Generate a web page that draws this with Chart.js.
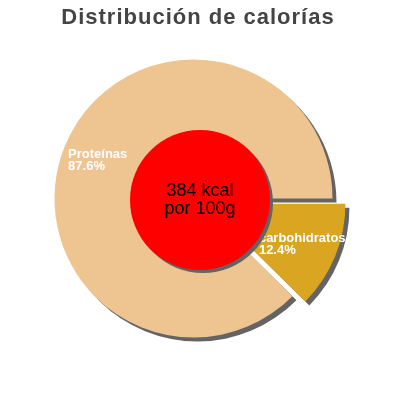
<!DOCTYPE html>
<html>
<head>
<meta charset="utf-8">
<script src="https://cdn.jsdelivr.net/npm/chart.js@4"></script>
<style>
  html, body { margin: 0; padding: 0; background: #fff; }
  #wrap { width: 400px; height: 400px; position: relative; }
</style>
</head>
<body>
<div id="wrap"><canvas id="myChart"></canvas></div>
<script>
// datos
const labels = ['carbohidratos', 'Proteínas'];
const percentages = [12.4, 87.6];
const titleText = 'Distribución de calorías';
const centerLines = ['384 kcal', 'por 100g'];

const sliceColors = ['rgb(218,165,32)', 'rgb(238,197,145)'];
const explodeIndex = 0;      // la porción separada
const EXPLODE_PX = 14;
const SHADOW = '#646464';
const FONT = "'Liberation Sans', Arial, sans-serif";

// separa la porción de carbohidratos a lo largo de su bisectriz
const explodePlugin = {
    id: 'explode',
    afterDatasetsUpdate: (chart) => {
        const arc = chart.getDatasetMeta(0).data[explodeIndex];
        if (!arc) return;
        const mid = (arc.startAngle + arc.endAngle) / 2;
        arc.x += Math.cos(mid) * EXPLODE_PX;
        arc.y += Math.sin(mid) * EXPLODE_PX;
    }
};

// sombra gris detrás del pastel, círculo rojo y etiquetas
const decorPlugin = {
    id: 'decor',
    beforeDatasetsDraw: (chart) => {
        const ctx = chart.ctx;
        ctx.save();
        ctx.shadowColor = SHADOW;
        ctx.shadowOffsetX = 4;
        ctx.shadowOffsetY = 4;
        ctx.shadowBlur = 0;
    },
    afterDatasetsDraw: (chart) => {
        const ctx = chart.ctx;
        ctx.restore();

        // etiquetas de las porciones
        const meta = chart.getDatasetMeta(0);
        ctx.save();
        ctx.fillStyle = '#ffffff';
        ctx.font = 'bold 13px ' + FONT;
        ctx.textAlign = 'left';
        ctx.textBaseline = 'alphabetic';
        meta.data.forEach((arc, i) => {
            const mid = (arc.startAngle + arc.endAngle) / 2;
            const r = arc.outerRadius * 0.745;
            const cx = arc.x + Math.cos(mid) * r;
            const cy = arc.y + Math.sin(mid) * r;
            const lines = [labels[i], percentages[i].toFixed(1) + '%'];
            const w = Math.max(...lines.map((t) => ctx.measureText(t).width));
            const left = cx - w / 2;
            ctx.fillText(lines[0], left, cy - 1.6);
            ctx.fillText(lines[1], left, cy + 10.9);
        });
        ctx.restore();

        // círculo rojo central
        const ccx = chart.width / 2;
        const ccy = chart.height / 2;
        ctx.save();
        ctx.shadowColor = SHADOW;
        ctx.shadowOffsetX = 3;
        ctx.shadowOffsetY = 3;
        ctx.beginPath();
        ctx.arc(ccx, ccy, 70, 0, Math.PI * 2);
        ctx.fillStyle = '#ff0000';
        ctx.fill();
        ctx.restore();

        ctx.save();
        ctx.fillStyle = '#000000';
        ctx.font = '18px ' + FONT;
        ctx.textAlign = 'center';
        ctx.textBaseline = 'alphabetic';
        ctx.fillText(centerLines[0], ccx, ccy - 4);
        ctx.fillText(centerLines[1], ccx, ccy + 13.5);
        ctx.restore();

        // título
        ctx.save();
        ctx.fillStyle = '#444444';
        ctx.font = 'bold 22px ' + FONT;
        ctx.textAlign = 'center';
        ctx.textBaseline = 'alphabetic';
        if ('letterSpacing' in ctx) ctx.letterSpacing = '1px';
        ctx.fillText(titleText, chart.width / 2 - 2, 24);
        ctx.restore();
    }
};

const data = {
    labels: labels,
    datasets: [{
        data: percentages,
        backgroundColor: sliceColors,
        borderWidth: 0,
    }]
};

const config = {
    type: 'pie',
    data: data,
    options: {
        responsive: true,
        maintainAspectRatio: false,
        animation: false,
        events: [],
        rotation: 90,
        radius: 139,
        layout: {
            padding: { top: 40, bottom: 43, left: 0, right: 13 }
        },
        plugins: {
            legend: { display: false },
            tooltip: { enabled: false },
            title: { display: false }
        }
    },
    plugins: [explodePlugin, decorPlugin]
};

var myChart = new Chart(document.getElementById('myChart'), config);
</script>
</body>
</html>
